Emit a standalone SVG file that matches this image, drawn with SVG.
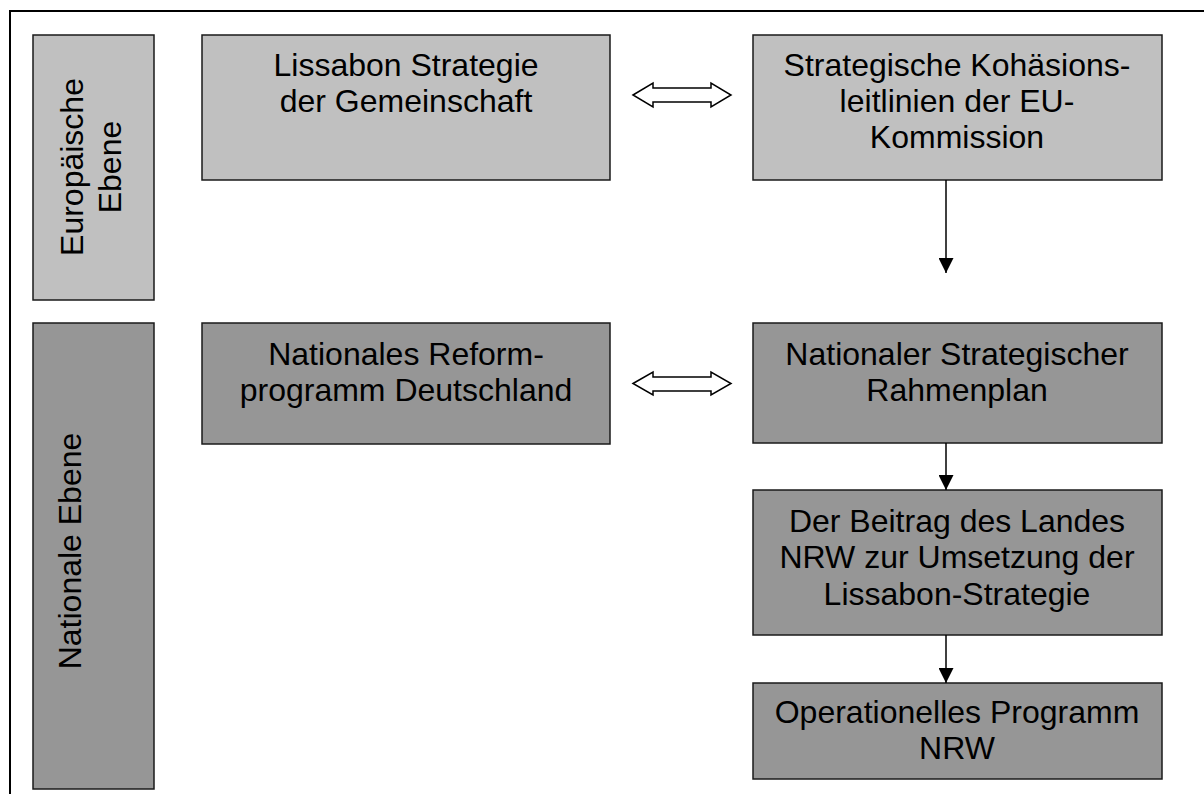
<svg xmlns="http://www.w3.org/2000/svg" width="1204" height="794" viewBox="0 0 1204 794">
<defs>
<style>
.eu{fill:#c0c0c0;stroke:#1a1a1a;stroke-width:1.5}
.nat{fill:#969696;stroke:#1a1a1a;stroke-width:1.5}
text{font-family:"Liberation Sans",Arial,sans-serif;font-size:32px;fill:#000;text-anchor:middle}
.conn{stroke:#000;stroke-width:1.5;fill:none}
.dbl{fill:#fff;stroke:#000;stroke-width:1.5;stroke-linejoin:miter}
</style>
<marker id="ah" markerWidth="16" markerHeight="15" refX="15" refY="7.5" orient="auto" markerUnits="userSpaceOnUse">
<path d="M0,0 L15,7.5 L0,15 Z" fill="#000"/>
</marker>
</defs>
<rect x="0" y="0" width="1204" height="794" fill="#fff"/>
<rect x="10" y="11" width="1210" height="800" fill="none" stroke="#000" stroke-width="2"/>

<g id="europaeische-ebene">
<rect class="eu" x="33" y="35" width="121" height="265"/>
<text transform="translate(83,167) rotate(-90)">Europäische</text>
<text transform="translate(121,167) rotate(-90)">Ebene</text>
</g>
<g id="nationale-ebene">
<rect class="nat" x="33" y="323" width="121" height="466"/>
<text transform="translate(81,551) rotate(-90)">Nationale Ebene</text>
</g>

<g id="lissabon">
<rect class="eu" x="202" y="35" width="408" height="145"/>
<text x="406" y="76">Lissabon Strategie</text>
<text x="406" y="112">der Gemeinschaft</text>
</g>
<g id="kohaesion">
<rect class="eu" x="753" y="35" width="409" height="145"/>
<text x="957" y="76">Strategische Kohäsions-</text>
<text x="957" y="112">leitlinien der EU-</text>
<text x="957" y="148">Kommission</text>
</g>
<g id="reformprogramm">
<rect class="nat" x="202" y="323" width="408" height="121"/>
<text x="406" y="365">Nationales Reform-</text>
<text x="406" y="401">programm Deutschland</text>
</g>
<g id="rahmenplan">
<rect class="nat" x="753" y="323" width="409" height="120"/>
<text x="957" y="365">Nationaler Strategischer</text>
<text x="957" y="401">Rahmenplan</text>
</g>
<g id="beitrag-nrw">
<rect class="nat" x="753" y="490" width="409" height="145"/>
<text x="957" y="532">Der Beitrag des Landes</text>
<text x="957" y="568">NRW zur Umsetzung der</text>
<text x="957" y="605">Lissabon-Strategie</text>
</g>
<g id="op-nrw">
<rect class="nat" x="753" y="683" width="409" height="96"/>
<text x="957" y="723">Operationelles Programm</text>
<text x="957" y="759">NRW</text>
</g>

<g id="connectors">
<path class="dbl" d="M633,95 L653,83 L653,88 L711,88 L711,83 L731,95 L711,107 L711,102 L653,102 L653,107 Z"/>
<path class="dbl" d="M633,383.5 L653,372 L653,377 L711,377 L711,372 L731,383.5 L711,395 L711,391 L653,391 L653,395 Z"/>
<line class="conn" x1="946" y1="180" x2="946" y2="273" marker-end="url(#ah)"/>
<line class="conn" x1="946" y1="443" x2="946" y2="490" marker-end="url(#ah)"/>
<line class="conn" x1="946" y1="635" x2="946" y2="683" marker-end="url(#ah)"/>
</g>
</svg>
